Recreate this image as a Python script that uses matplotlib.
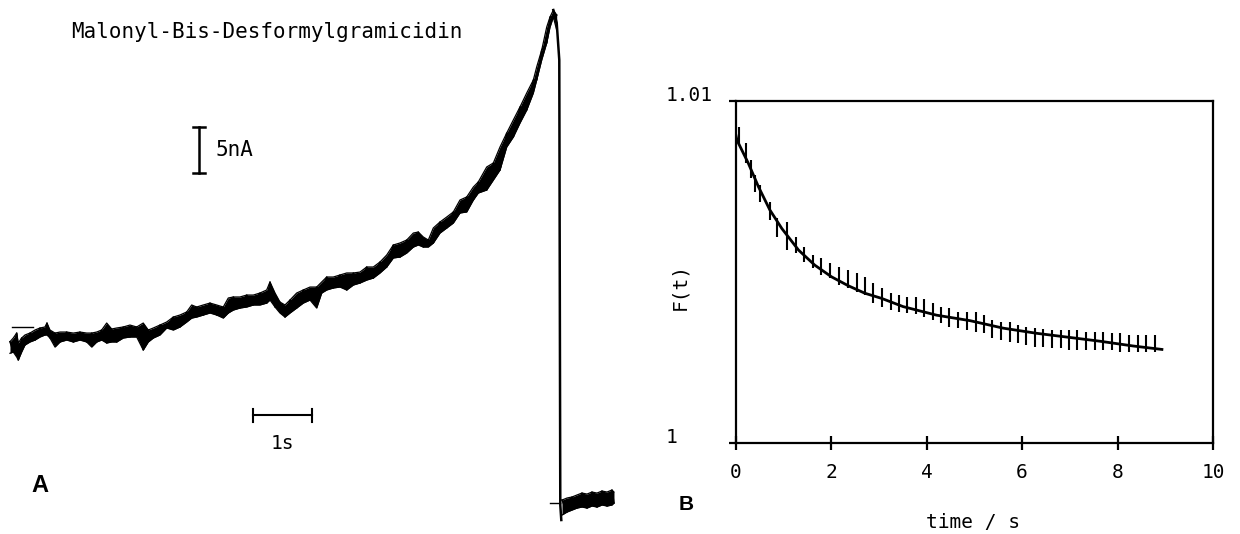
import matplotlib
matplotlib.use("Agg")
import matplotlib.pyplot as plt
import numpy as np

MONO = "DejaVu Sans Mono"
BOLD = "Liberation Sans"

# ---------------- Panel A: current trace (time in s, current in nA) ----------
trace_t = [-0.017, 0.039, 0.097, 0.124, 0.181, 0.237, 0.322, 0.407, 0.492, 0.576,
           0.610, 0.661, 0.746, 0.831, 0.944, 1.056, 1.169, 1.283, 1.368, 1.453,
           1.537, 1.622, 1.707, 1.792, 1.903, 2.017, 2.131, 2.242, 2.327, 2.412,
           2.525, 2.639, 2.751, 2.864, 2.978, 3.063, 3.147, 3.259, 3.373, 3.486,
           3.598, 3.683, 3.768, 3.881, 3.995, 4.107, 4.220, 4.334, 4.390, 4.475,
           4.559, 4.644, 4.729, 4.842, 4.954, 5.068, 5.181, 5.266, 5.351, 5.463,
           5.576, 5.690, 5.802, 5.915, 6.029, 6.141, 6.254, 6.368, 6.480, 6.593,
           6.707, 6.819, 6.903, 6.988, 7.073, 7.158, 7.271, 7.385, 7.497, 7.610,
           7.724, 7.836, 7.920, 8.063, 8.175, 8.288, 8.402, 8.514, 8.627, 8.741,
           8.853, 8.910, 8.995, 9.080, 9.136, 9.192, 9.249]
trace_hi = [-1.27, -0.87, -0.33, -1.41, -0.87, -0.54, -0.33, 0.00, 0.22, 0.33,
            0.76, 0.00, -0.33, -0.22, -0.22, -0.33, -0.22, -0.33, -0.33, -0.22,
            0.00, 0.76, 0.11, 0.22, 0.33, 0.54, 0.33, 0.76, 0.00, 0.22,
            0.54, 0.87, 1.41, 1.63, 1.96, 2.72, 2.50, 2.72, 2.93, 2.72,
            2.50, 3.48, 3.59, 3.59, 3.80, 3.80, 4.02, 4.35, 5.22, 4.02,
            3.04, 2.72, 3.26, 4.02, 4.35, 4.67, 4.67, 5.22, 5.76, 5.76,
            5.98, 6.20, 6.20, 6.30, 6.85, 6.85, 7.39, 8.15, 9.24, 9.46,
            9.78, 10.54, 10.65, 10.11, 9.78, 11.09, 11.74, 12.28, 12.83, 14.13,
            14.46, 15.54, 16.09, 17.72, 18.15, 19.89, 21.41, 22.83, 24.24, 25.76,
            27.17, 28.59, 30.43, 32.93, 34.02, 34.78, 34.24]
trace_lo = [-2.53, -2.39, -2.93, -3.26, -2.39, -1.63, -1.30, -1.09, -0.76, -0.54,
            -0.54, -0.87, -1.85, -1.30, -1.09, -1.30, -1.09, -1.30, -1.85, -1.30,
            -1.09, -1.41, -1.30, -1.30, -0.87, -0.76, -0.76, -2.17, -1.30, -0.87,
            -0.54, 0.22, 0.00, 0.33, 0.87, 1.30, 1.41, 1.63, 1.85, 1.63,
            1.30, 1.85, 2.17, 2.39, 2.50, 2.72, 2.72, 2.93, 3.26, 2.50,
            1.85, 1.41, 1.85, 2.39, 2.93, 3.26, 2.39, 4.02, 4.35, 4.57,
            4.67, 4.35, 4.89, 5.11, 5.43, 5.65, 6.20, 6.85, 7.83, 7.93,
            8.37, 9.02, 9.24, 9.02, 9.02, 9.46, 10.54, 11.09, 11.63, 12.72,
            12.83, 14.13, 14.89, 15.22, 16.30, 17.39, 19.89, 20.98, 22.50, 23.91,
            25.76, 27.17, 29.35, 31.20, 32.93, 34.02, 32.61]

# fast drop after the peak
drop_t = [9.192, 9.249, 9.293, 9.310, 9.327]
drop_i = [34.78, 33.40, 29.35, -19.02, -20.65]

# trace after the drop
after_t = [9.339, 9.424, 9.508, 9.593, 9.678, 9.763, 9.847, 9.932, 10.017, 10.102, 10.186, 10.220]
after_hi = [-18.48, -18.26, -18.15, -17.93, -17.72, -17.83, -17.61, -17.72, -17.50, -17.61, -17.39, -17.61]
after_lo = [-20.11, -19.78, -19.57, -19.35, -19.24, -19.35, -19.13, -19.24, -19.02, -19.13, -19.02, -18.80]

# baseline markers
start_mark_t = [0.017, 0.373]
start_mark_i = [0.33, 0.33]
end_mark_t = [9.136, 9.305]
end_mark_i = [-18.80, -18.80]

# scale bars
bar_nA = 5.0
bar_s = 1.0
bar_nA_pos = (3.181, 17.10)
bar_s_pos = (4.10, -9.24)

# ---------------- Panel B: F(t) ------------------------------------------------
fit_t = [0.00, 0.03, 0.27, 0.48, 0.72, 0.97, 1.32, 1.66, 2.01, 2.36, 2.71, 3.06,
         3.51, 4.21, 4.91, 5.61, 6.31, 7.00, 7.63, 8.33, 8.93]
fit_f = [1.00905, 1.00885, 1.00817, 1.00749, 1.00681, 1.00627, 1.00564, 1.00520,
         1.00486, 1.00460, 1.00438, 1.00423, 1.00399, 1.00374, 1.00358, 1.00336,
         1.00321, 1.00309, 1.00298, 1.00284, 1.00274]

err_t = [0.07, 0.23, 0.33, 0.41, 0.51, 0.72, 0.86, 1.07, 1.27, 1.44, 1.62, 1.80,
         1.98, 2.17, 2.35, 2.54, 2.71, 2.89, 3.07, 3.25, 3.42, 3.60, 3.77, 3.95,
         4.13, 4.30, 4.48, 4.67, 4.84, 5.03, 5.20, 5.38, 5.56, 5.74, 5.92, 6.09,
         6.27, 6.44, 6.63, 6.81, 6.99, 7.16, 7.34, 7.52, 7.70, 7.88, 8.06, 8.24,
         8.42, 8.59, 8.78]
err_hi = [1.00924, 1.00877, 1.00827, 1.00783, 1.00754, 1.00704, 1.00658, 1.00646,
          1.00602, 1.00573, 1.00550, 1.00541, 1.00526, 1.00515, 1.00506, 1.00497,
          1.00485, 1.00468, 1.00452, 1.00438, 1.00433, 1.00428, 1.00428, 1.00420,
          1.00409, 1.00399, 1.00394, 1.00384, 1.00384, 1.00382, 1.00375, 1.00360,
          1.00355, 1.00355, 1.00345, 1.00340, 1.00336, 1.00333, 1.00331, 1.00331,
          1.00331, 1.00331, 1.00326, 1.00326, 1.00326, 1.00321, 1.00321, 1.00316,
          1.00316, 1.00316, 1.00316]
err_lo = [1.00871, 1.00818, 1.00774, 1.00734, 1.00704, 1.00652, 1.00602, 1.00564,
          1.00555, 1.00529, 1.00512, 1.00491, 1.00483, 1.00462, 1.00453, 1.00442,
          1.00433, 1.00410, 1.00399, 1.00389, 1.00382, 1.00380, 1.00376, 1.00370,
          1.00360, 1.00350, 1.00340, 1.00336, 1.00331, 1.00326, 1.00321, 1.00306,
          1.00302, 1.00297, 1.00292, 1.00287, 1.00282, 1.00282, 1.00277, 1.00277,
          1.00272, 1.00272, 1.00272, 1.00272, 1.00272, 1.00272, 1.00267, 1.00267,
          1.00267, 1.00267, 1.00267]

x_ticks = [0, 2, 4, 6, 8, 10]
y_ticks = [1.00, 1.01]
y_tick_labels = ["1", "1.01"]

W, H = 1240, 534
fig = plt.figure(figsize=(W / 100, H / 100), dpi=100)
fig.patch.set_facecolor("white")


def alternate(ts, his, los):
    """Alternate between the read upper and lower extremes (recorder noise)."""
    return list(ts), [h if k % 2 == 0 else l for k, (h, l) in enumerate(zip(his, los))]


# ---------------- draw panel A ----------------
axA = fig.add_axes([0, 0, 620 / W, 1])
axA.set_xlim(-0.186, 10.322)
axA.set_ylim(-22.17, 35.87)
axA.axis("off")

axA.fill_between(trace_t, trace_lo, trace_hi, color="black", lw=0)
axA.plot(trace_t, trace_hi, color="black", lw=0.9)
axA.plot(trace_t, trace_lo, color="black", lw=0.9)
zx, zy = alternate(trace_t, trace_hi, trace_lo)
axA.plot(zx, zy, color="black", lw=1.1)
axA.plot(drop_t, drop_i, color="black", lw=1.8)
axA.fill_between(after_t, after_lo, after_hi, color="black", lw=0)
axA.plot(after_t, after_hi, color="black", lw=0.9)
axA.plot(after_t, after_lo, color="black", lw=0.9)
ax_, ay_ = alternate(after_t, after_hi, after_lo)
axA.plot(ax_, ay_, color="black", lw=1.1)
axA.plot(start_mark_t, start_mark_i, color="black", lw=1.0)
axA.plot(end_mark_t, end_mark_i, color="black", lw=1.0)

# 5 nA bar
bx, by = bar_nA_pos
axA.plot([bx, bx], [by, by + bar_nA], color="black", lw=1.8)
axA.plot([bx - 0.1, bx + 0.1], [by, by], color="black", lw=1.8)
axA.plot([bx - 0.1, bx + 0.1], [by + bar_nA, by + bar_nA], color="black", lw=1.8)
axA.text(bx + 0.28, by + bar_nA / 2, "5nA", fontsize=15, family=MONO,
         ha="left", va="center")
# 1 s bar
sx, sy = bar_s_pos
axA.plot([sx, sx + bar_s], [sy, sy], color="black", lw=1.5)
axA.plot([sx, sx], [sy + 0.7, sy - 0.75], color="black", lw=1.5)
axA.plot([sx + bar_s, sx + bar_s], [sy + 0.7, sy - 0.75], color="black", lw=1.5)
axA.text(sx + bar_s / 2, sy - 3.05, "1s", fontsize=14, family=MONO,
         ha="center", va="center")

fig.text(71 / W, 1 - 32 / H, "Malonyl-Bis-Desformylgramicidin", fontsize=15,
         family=MONO, ha="left", va="center")
fig.text(39.5 / W, 1 - 485 / H, "A", fontsize=17, family=BOLD, weight="bold",
         ha="center", va="center")

# ---------------- draw panel B ----------------
left, right, top, bottom = 735.5, 1213.0, 100.7, 443.3
axB = fig.add_axes([left / W, 1 - bottom / H, (right - left) / W, (bottom - top) / H])
axB.set_xlim(0, 10)
axB.set_ylim(1.00, 1.01)
for s in axB.spines.values():
    s.set_linewidth(1.6)
axB.plot(fit_t, fit_f, color="black", lw=2.0)
axB.vlines(err_t, err_lo, err_hi, color="black", lw=1.5)

axB.set_xticks(x_ticks)
axB.set_xticklabels([str(v) for v in x_ticks], family=MONO, fontsize=14)
axB.tick_params(axis="x", direction="inout", length=10, width=1.6, pad=9)
axB.set_yticks(y_ticks)
axB.set_yticklabels([])
axB.tick_params(axis="y", direction="out", length=5, width=1.6)
for v, lab in zip(y_ticks, y_tick_labels):
    axB.text(-0.146, v + 0.00016, lab, transform=axB.get_yaxis_transform(),
             fontsize=14, family=MONO, ha="left", va="center")

fig.text(973 / W, 1 - 523 / H, "time / s", fontsize=14, family=MONO,
         ha="center", va="center")
fig.text(680 / W, 1 - 287 / H, "F(t)", fontsize=14, family=MONO,
         ha="center", va="center", rotation=90)
fig.text(686 / W, 1 - 505 / H, "B", fontsize=15, family=BOLD, weight="bold",
         ha="center", va="center")

fig.savefig("out.png", dpi=100, facecolor="white")
